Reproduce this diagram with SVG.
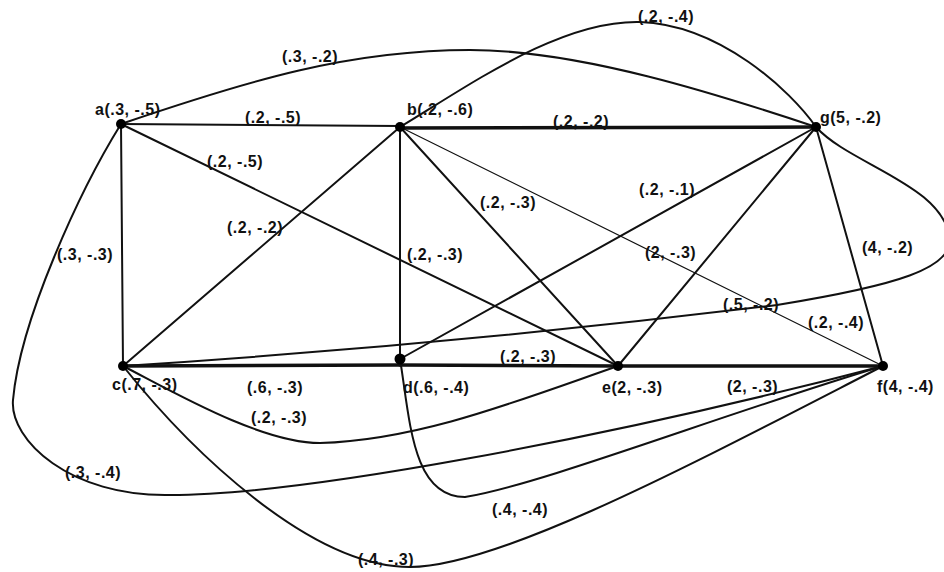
<svg xmlns="http://www.w3.org/2000/svg" width="944" height="572" viewBox="0 0 944 572">
<style>
.e{stroke:#111;stroke-width:2;fill:none;stroke-linecap:round}
.thick{stroke-width:3.5}
.thin{stroke-width:1.2}
.dot{fill:#000}
text{font-family:"Liberation Sans",Arial,sans-serif;font-size:16px;font-weight:bold;fill:#111;letter-spacing:0.5px}
</style>
<rect width="944" height="572" fill="#fff"/>
<g id="connectors">
  <!-- straight edges -->
  <line class="e" x1="121" y1="124" x2="400" y2="126"/>
  <line class="e" x1="121" y1="124" x2="123" y2="366"/>
  <line class="e" x1="121" y1="124" x2="618" y2="366"/>
  <line class="e" x1="400" y1="127" x2="123" y2="366"/>
  <line class="e" x1="400" y1="127" x2="400" y2="359"/>
  <line class="e" x1="400" y1="127" x2="618" y2="366"/>
  <line class="e thin" x1="400" y1="127" x2="883" y2="366"/>
  <line class="e thick" x1="400" y1="128" x2="816" y2="127"/>
  <line class="e" x1="816" y1="127" x2="400" y2="359"/>
  <line class="e" x1="816" y1="127" x2="618" y2="366"/>
  <line class="e" x1="816" y1="127" x2="883" y2="366"/>
  <line class="e thick" x1="123" y1="366" x2="400" y2="365"/>
  <line class="e thick" x1="400" y1="365" x2="618" y2="366"/>
  <line class="e thick" x1="618" y1="366" x2="883" y2="366"/>
  <!-- curved edges -->
  <path class="e" d="M121,124 C250,80 350,50 470,50 C580,50 720,95 816,127"/>
  <path class="e" d="M400,127 C470,85 560,20 640,22 C720,25 790,90 816,127"/>
  <path class="e" d="M816,127 C850,165 945,185 950,240 C950,268 900,285 777,305 Q450,345 123,366"/>
  <path class="e" d="M121,124 C80,190 20,320 13,400 C9.5,440 70,497 170,495 C300,495 600,440 883,366"/>
  <path class="e" d="M123,366 C170,390 260,443 320,443 C420,440 520,400 618,366"/>
  <path class="e" d="M123,366 C190,450 310,567 410,567 C500,567 700,460 883,366"/>
  <path class="e" d="M400,359 C410,420 412,497 465,497 C540,485 720,415 883,366"/>
</g>
<g id="edge-labels">
  <text x="282" y="62">(.3, -.2)</text>
  <text x="638" y="22">(.2, -.4)</text>
  <text x="245" y="123">(.2, -.5)</text>
  <text x="207" y="167">(.2, -.5)</text>
  <text x="553" y="127">(.2, -.2)</text>
  <text x="639" y="195">(.2, -.1)</text>
  <text x="480" y="208">(.2, -.3)</text>
  <text x="645" y="258">(2, -.3)</text>
  <text x="862" y="253">(4, -.2)</text>
  <text x="227" y="233">(.2, -.2)</text>
  <text x="57" y="260">(.3, -.3)</text>
  <text x="407" y="260">(.2, -.3)</text>
  <text x="723" y="310">(.5, -.2)</text>
  <text x="808" y="328">(.2, -.4)</text>
  <text x="500" y="362">(.2, -.3)</text>
  <text x="247" y="393">(.6, -.3)</text>
  <text x="727" y="392">(2, -.3)</text>
  <text x="251" y="423">(.2, -.3)</text>
  <text x="65" y="478">(.3, -.4)</text>
  <text x="492" y="515">(.4, -.4)</text>
  <text x="358" y="565">(.4, -.3)</text>
</g>
<g id="node-a"><circle class="dot" cx="121" cy="124" r="5"/><text x="95" y="115">a(.3, -.5)</text></g>
<g id="node-b"><circle class="dot" cx="400" cy="127" r="5"/><text x="407" y="115">b(.2, -.6)</text></g>
<g id="node-g"><circle class="dot" cx="816" cy="127" r="5"/><text x="820" y="123">g(5, -.2)</text></g>
<g id="node-c"><circle class="dot" cx="123" cy="366" r="5"/><text x="112" y="390">c(.7, -.3)</text></g>
<g id="node-d"><circle class="dot" cx="400" cy="359" r="5.5"/><text x="403" y="393">d(.6, -.4)</text></g>
<g id="node-e"><circle class="dot" cx="618" cy="366" r="5"/><text x="602" y="393">e(2, -.3)</text></g>
<g id="node-f"><circle class="dot" cx="883" cy="366" r="5"/><text x="877" y="392">f(4, -.4)</text></g>
</svg>
